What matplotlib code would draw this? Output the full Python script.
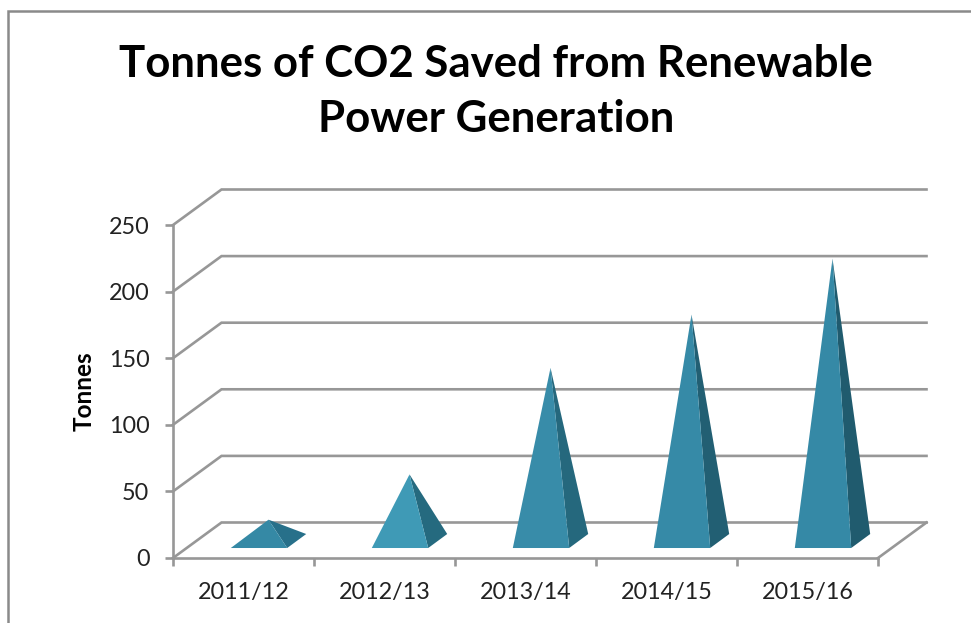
import matplotlib
matplotlib.use('Agg')
from matplotlib import pyplot as plt
from matplotlib.lines import Line2D
from matplotlib.patches import Polygon

plt.rcParams['font.family'] = ['Lato', 'DejaVu Sans']

categories = ['2011/12', '2012/13', '2013/14', '2014/15', '2015/16']
tonnes = [16, 50, 130, 170, 212]
y_ticks = [0, 50, 100, 150, 200, 250]

front_colors = ['#3589a5', '#3f9ab6', '#388ca9', '#368aa7', '#3589a6']
side_colors = ['#27708a', '#256a7f', '#25687d', '#225f73', '#205b6e']
line_color = '#979797'

W, H = 971, 623
fig = plt.figure(figsize=(W / 100, H / 100), dpi=100)

# axes box is the front plane of the fake 3d chart (pixels from the reference)
left, right, top, bottom = 173, 878, 225, 558
ax = fig.add_axes([left / W, 1 - bottom / H, (right - left) / W, (bottom - top) / H])
ax.set_xlim(0, len(categories))
ax.set_ylim(0, 250)
ax.patch.set_visible(False)

# depth of the chart in data units
depth_x = 48.5 / 141
depth_y = 35.5 / 1.332

for t in y_ticks:
    ax.plot([0, depth_x, 5 + depth_x], [t, t + depth_y, t + depth_y], color=line_color,
            lw=1.9, clip_on=False, zorder=1, solid_joinstyle='miter')
ax.plot([5, 5 + depth_x], [0, depth_y], color=line_color, lw=1.9, clip_on=False, zorder=1)

for s in ['top', 'right']:
    ax.spines[s].set_visible(False)
for s in ['left', 'bottom']:
    ax.spines[s].set_color(line_color)
    ax.spines[s].set_linewidth(1.9)

ax.set_yticks(y_ticks)
ax.set_xticks(range(len(categories) + 1))
ax.set_xticklabels([])
ax.set_xticks([i + 0.5 for i in range(len(categories))], labels=categories, minor=True)
ax.tick_params(axis='both', which='major', length=6, width=1.9, color=line_color)
ax.tick_params(axis='y', labelsize=16.8, labelcolor='#222222', pad=11)
ax.tick_params(axis='x', which='minor', length=0, labelsize=16.8, labelcolor='#222222', pad=17.5)

# pyramids
bar_w = 0.40
base_y = 7.5
shift = 0.11
dx = 19 / 141
dy = 14 / 1.332
for i, v in enumerate(tonnes):
    x0 = i + 0.5 + shift - bar_w / 2
    x1 = x0 + bar_w
    apex = (x0 + bar_w / 2 + dx / 2, base_y + dy / 2 + v)
    side = Polygon([(x1, base_y), (x1 + dx, base_y + dy), apex], closed=True,
                   facecolor=side_colors[i], edgecolor='none', zorder=3, clip_on=False)
    front = Polygon([(x0, base_y), (x1, base_y), apex], closed=True,
                    facecolor=front_colors[i], edgecolor='none', zorder=4, clip_on=False)
    ax.add_patch(side)
    ax.add_patch(front)

fig.text(496 / W, 1 - 91.5 / H, 'Tonnes of CO2 Saved from Renewable\nPower Generation',
         ha='center', va='center', fontsize=31.5, fontweight='bold', color='black', linespacing=1.46)
fig.text(84 / W, 1 - 391 / H, 'Tonnes', rotation=90, ha='center', va='center',
         fontsize=17.5, fontweight='bold', color='black')

# chart border, runs off the right and bottom of the picture
fig.add_artist(Line2D([8 / W, 8 / W, 1], [0, 1 - 10.5 / H, 1 - 10.5 / H], color='#8a8a8a', lw=1.8,
                      solid_joinstyle='miter'))

plt.savefig('out.png', dpi=100, facecolor='white')
